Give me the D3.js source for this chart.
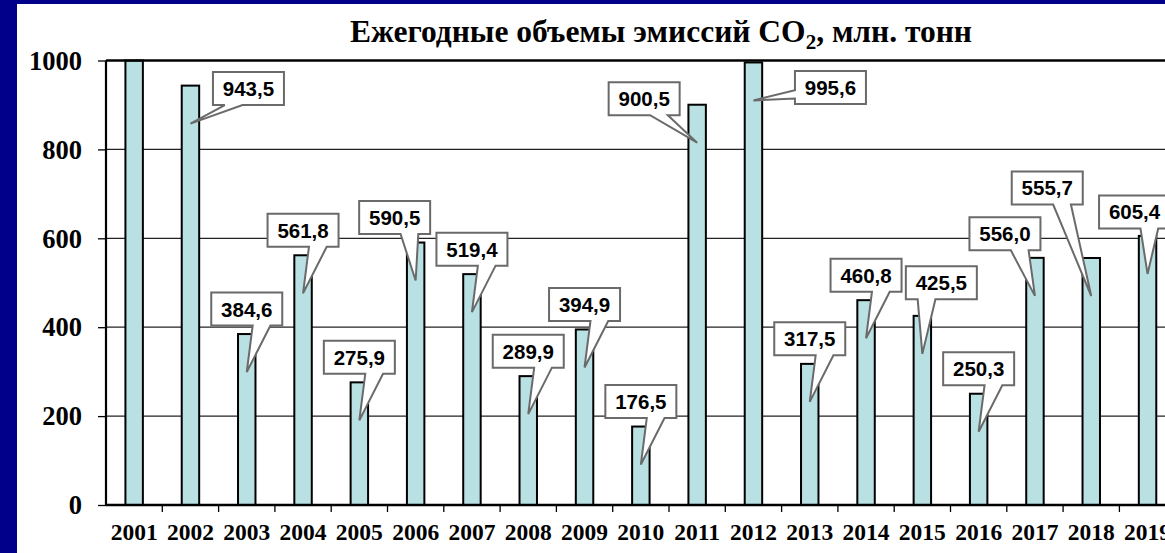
<!DOCTYPE html>
<html>
<head>
<meta charset="utf-8">
<script src="https://cdn.jsdelivr.net/npm/d3@7"></script>
<style>
  html, body { margin: 0; padding: 0; background: #00008a; overflow: hidden; }
  svg { display: block; }
</style>
</head>
<body>
<div class="chartdiv"></div>
<script>
//chart data
var years = ["2001","2002","2003","2004","2005","2006","2007","2008","2009","2010",
    "2011","2012","2013","2014","2015","2016","2017","2018","2019"];
//2001 runs past the top of the axis, so it is only known to be >= 1000
var emissions = [1000, 943.5, 384.6, 561.8, 275.9, 590.5, 519.4, 289.9, 394.9, 176.5,
    900.5, 995.6, 317.5, 460.8, 425.5, 250.3, 556.0, 555.7, 605.4];
var yTicks = [0, 200, 400, 600, 800, 1000];
var chartTitle = "Ежегодные объемы эмиссий CO";

//callouts that were moved off their default place (box centre shift, px)
var calloutShift = {
    "2002": [58, 28], "2006": [-21, 0], "2011": [-53, 19], "2012": [77, 50],
    "2015": [19, -8], "2017": [-30, 1], "2018": [-44, -45], "2019": [-13, 1]
};

var width = 1165, height = 553;
var plot = {left: 106, top: 60.5, bottom: 505, step: 56.3};

var svg = d3.select("div.chartdiv")
    .append("svg")
    .attr("width", width)
    .attr("height", height);

// white slide panel on the blue background
svg.append("rect")
    .attr("x", 17).attr("y", 4)
    .attr("width", width - 17).attr("height", height - 4)
    .style("fill", "#ffffff");

var x = d3.scaleBand()
    .domain(years)
    .range([plot.left, plot.left + plot.step * years.length])
    .paddingInner(0).paddingOuter(0);

var y = d3.scaleLinear()
    .domain([0, 1000])
    .range([plot.bottom, plot.top])
    .clamp(true);

var barWidth = x.bandwidth() * 0.31;

//gridlines
svg.append("g")
    .selectAll("line")
    .data(yTicks.slice(1, -1))
    .enter()
    .append("line")
    .attr("x1", plot.left).attr("x2", width)
    .attr("y1", function(d){ return y(d); })
    .attr("y2", function(d){ return y(d); })
    .style("stroke", "#222")
    .style("stroke-width", 1.3);

//y axis
var yAxis = svg.append("g")
    .attr("transform", "translate(" + plot.left + ",0)")
    .call(d3.axisLeft(y).tickValues(yTicks).tickSize(8).tickPadding(16).tickFormat(d3.format("d")));
yAxis.select(".domain").remove();
yAxis.selectAll("line").style("stroke", "#000").style("stroke-width", 1.3);
yAxis.selectAll("text")
    .style("font-family", "'Liberation Serif', 'Times New Roman', serif")
    .style("font-weight", "bold")
    .style("font-size", "26.5px")
    .style("fill", "#000")
    .attr("dy", "0.33em");

//bars
svg.append("g")
    .selectAll("rect")
    .data(years)
    .enter()
    .append("rect")
    .attr("class", "bar")
    .attr("x", function(d){ return x(d) + x.bandwidth() / 2 - barWidth / 2; })
    .attr("y", function(d, i){ return y(emissions[i]); })
    .attr("width", barWidth)
    .attr("height", function(d, i){ return plot.bottom - y(emissions[i]); })
    .style("fill", "#b9e0e3")
    .style("stroke", "#000")
    .style("stroke-width", 2);

//plot area frame (top line + left axis)
svg.append("line")
    .attr("x1", plot.left).attr("x2", width)
    .attr("y1", y(1000)).attr("y2", y(1000))
    .style("stroke", "#000").style("stroke-width", 2.5);
svg.append("line")
    .attr("x1", plot.left).attr("x2", plot.left)
    .attr("y1", y(1000)).attr("y2", plot.bottom)
    .style("stroke", "#000").style("stroke-width", 2.2);

//x axis
var xAxis = svg.append("g")
    .attr("transform", "translate(0," + plot.bottom + ")")
    .call(d3.axisBottom(x).tickSize(0).tickPadding(18));
xAxis.select(".domain").remove();
xAxis.selectAll("text")
    .style("font-family", "'Liberation Serif', 'Times New Roman', serif")
    .style("font-weight", "bold")
    .style("font-size", "23.5px")
    .style("fill", "#000");
svg.append("line")
    .attr("x1", plot.left).attr("x2", width)
    .attr("y1", plot.bottom).attr("y2", plot.bottom)
    .style("stroke", "#000").style("stroke-width", 2.5);
svg.append("g")
    .selectAll("line")
    .data(years.slice(1).concat(["end"]))
    .enter()
    .append("line")
    .attr("x1", function(d){ return d == "end" ? plot.left + plot.step * years.length : x(d); })
    .attr("x2", function(d){ return d == "end" ? plot.left + plot.step * years.length : x(d); })
    .attr("y1", plot.bottom).attr("y2", plot.bottom + 7)
    .style("stroke", "#000").style("stroke-width", 1.3);

//title with subscript 2
var title = svg.append("text")
    .attr("x", 661)
    .attr("y", 42)
    .attr("text-anchor", "middle")
    .style("font-family", "'Liberation Serif', 'Times New Roman', serif")
    .style("font-weight", "bold")
    .style("font-size", "31.5px")
    .style("fill", "#000");
title.append("tspan").text(chartTitle);
title.append("tspan").attr("dy", 7).style("font-size", "21px").text("2");
title.append("tspan").attr("dy", -7).text(", млн. тонн");

//wedge callout outline (same rule as the office wedgeRectCallout shape)
function calloutPath(bx, by, w, h, tx, ty){
    var dx = tx - (bx + w / 2), dy = ty - (by + h / 2);
    var p = [];
    if (Math.abs(dy) * w > Math.abs(dx) * h) {
        var xa = bx + w * (dx >= 0 ? 7 : 2) / 12, xb = bx + w * (dx >= 0 ? 10 : 5) / 12;
        if (dy > 0) {
            p = [[bx, by], [bx + w, by], [bx + w, by + h], [xb, by + h], [tx, ty], [xa, by + h], [bx, by + h]];
        } else {
            p = [[bx, by], [xa, by], [tx, ty], [xb, by], [bx + w, by], [bx + w, by + h], [bx, by + h]];
        }
    } else {
        var ya = by + h * (dy >= 0 ? 7 : 2) / 12, yb = by + h * (dy >= 0 ? 10 : 5) / 12;
        if (dx < 0) {
            p = [[bx, by], [bx + w, by], [bx + w, by + h], [bx, by + h], [bx, yb], [tx, ty], [bx, ya]];
        } else {
            p = [[bx, by], [bx + w, by], [bx + w, ya], [tx, ty], [bx + w, yb], [bx + w, by + h], [bx, by + h]];
        }
    }
    return "M" + p.map(function(q){ return q.join(","); }).join("L") + "Z";
}

var boxW = 71, boxH = 33;
var fmt = function(v){ return d3.format(".1f")(v).replace(".", ","); };

var labelled = years.filter(function(d, i){ return emissions[i] < 1000; });
var callouts = svg.append("g")
    .selectAll("g")
    .data(labelled)
    .enter()
    .append("g")
    .attr("class", "callout");

callouts.each(function(d){
    var i = years.indexOf(d);
    var v = emissions[i];
    var cx = x(d) + x.bandwidth() / 2;
    var top = y(v);
    var shift = calloutShift[d] || [0, 0];
    var bx = cx - boxW / 2 + shift[0];
    var by = top - 8.5 - boxH + shift[1];
    var g = d3.select(this);
    g.append("path")
        .attr("d", calloutPath(bx, by, boxW, boxH, cx, top + 38))
        .style("fill", "#ffffff")
        .style("stroke", "#6a6a6a")
        .style("stroke-width", 2)
        .style("stroke-linejoin", "miter");
    g.append("text")
        .attr("x", bx + boxW / 2)
        .attr("y", by + boxH / 2 + 7.5)
        .attr("text-anchor", "middle")
        .style("font-family", "'Liberation Sans', Arial, sans-serif")
        .style("font-weight", "bold")
        .style("font-size", "20.5px")
        .style("fill", "#000")
        .text(fmt(v));
});
</script>
</body>
</html>
